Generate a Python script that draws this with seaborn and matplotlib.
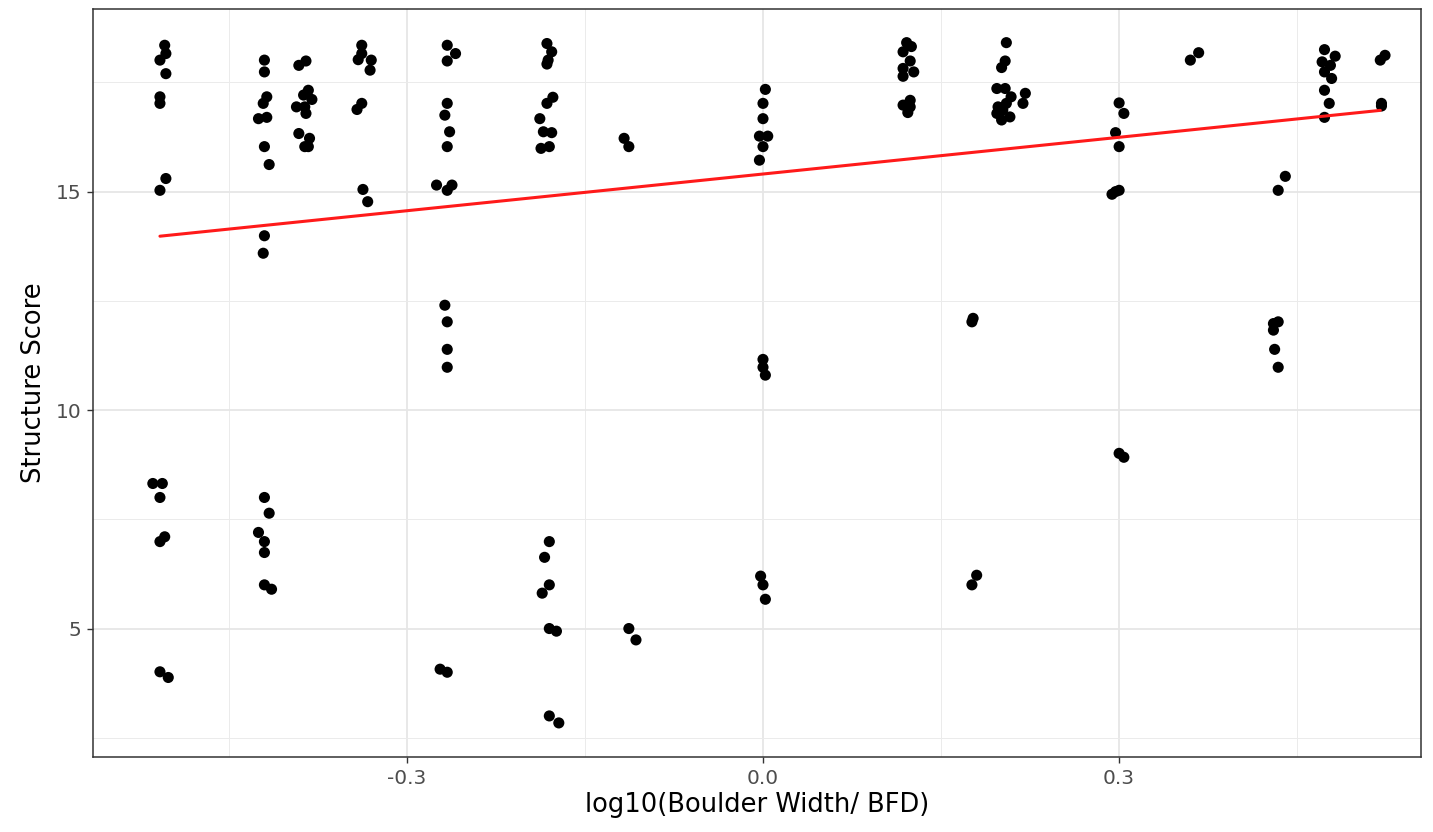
import matplotlib
matplotlib.use("Agg")
import matplotlib.pyplot as plt
import seaborn as sns
import pandas as pd
from matplotlib.ticker import FixedLocator

# ---- data (jittered points) ----
x_vals = [
    -0.504, -0.503, -0.508, -0.503, -0.508, -0.508, -0.503, -0.508, -0.514, -0.506, -0.508, -0.504, -0.508, -0.508, -0.501,
    -0.420, -0.420, -0.418, -0.421, -0.425, -0.418, -0.420, -0.416, -0.420, -0.421, -0.420, -0.416, -0.425, -0.420, -0.420, -0.420, -0.414,
    -0.391, -0.385, -0.383, -0.387, -0.380, -0.393, -0.386, -0.385, -0.391, -0.382, -0.386, -0.383,
    -0.338, -0.338, -0.341, -0.330, -0.331, -0.338, -0.342, -0.337, -0.333,
    -0.266, -0.259, -0.266, -0.266, -0.268, -0.264, -0.266, -0.275, -0.266, -0.262, -0.268, -0.266, -0.266, -0.266, -0.272, -0.266,
    -0.182, -0.178, -0.181, -0.182, -0.177, -0.182, -0.188, -0.185, -0.178, -0.187, -0.180, -0.180, -0.184, -0.180, -0.186, -0.180, -0.174, -0.180, -0.172,
    -0.117, -0.113, -0.113, -0.107,
    0.002, 0.000, 0.000, -0.003, 0.004, 0.000, -0.003, 0.000, 0.000, 0.002, -0.002, 0.000, 0.002,
    0.121, 0.125, 0.118, 0.124, 0.118, 0.127, 0.118, 0.124, 0.118, 0.124, 0.122,
    0.205, 0.204, 0.201, 0.197, 0.204, 0.209, 0.221, 0.219, 0.197, 0.202, 0.208, 0.201, 0.198, 0.205, 0.177, 0.176, 0.176, 0.180,
    0.300, 0.304, 0.297, 0.300, 0.297, 0.300, 0.294, 0.300, 0.304,
    0.360, 0.367,
    0.473, 0.482, 0.471, 0.478, 0.473, 0.479, 0.473, 0.477, 0.473, 0.430, 0.434, 0.430, 0.431, 0.434, 0.434, 0.440,
    0.524, 0.520, 0.521, 0.521,
]
y_vals = [
    18.35, 18.16, 18.01, 17.70, 17.17, 17.02, 15.30, 15.03, 8.32, 8.32, 8.00, 7.10, 6.99, 4.01, 3.88,
    18.01, 17.74, 17.17, 17.02, 16.67, 16.70, 16.03, 15.62, 13.99, 13.59, 8.00, 7.64, 7.20, 6.99, 6.74, 6.00, 5.90,
    17.89, 17.99, 17.32, 17.21, 17.11, 16.94, 16.94, 16.79, 16.33, 16.22, 16.03, 16.03,
    18.35, 18.16, 18.02, 18.01, 17.78, 17.02, 16.88, 15.05, 14.77,
    18.35, 18.16, 17.99, 17.02, 16.75, 16.37, 16.03, 15.15, 15.03, 15.15, 12.40, 12.02, 11.39, 10.98, 4.07, 4.00,
    18.39, 18.20, 18.01, 17.92, 17.16, 17.02, 16.67, 16.37, 16.35, 15.99, 16.03, 6.99, 6.63, 6.00, 5.81, 5.00, 4.94, 3.00, 2.84,
    16.22, 16.03, 5.00, 4.74,
    17.34, 17.02, 16.67, 16.27, 16.27, 16.03, 15.72, 11.16, 10.98, 10.80, 6.20, 6.00, 5.67,
    18.41, 18.32, 18.20, 17.99, 17.82, 17.74, 17.64, 17.09, 16.98, 16.94, 16.81,
    18.41, 17.99, 17.84, 17.36, 17.36, 17.17, 17.25, 17.02, 16.79, 16.87, 16.71, 16.64, 16.94, 17.02, 12.10, 12.02, 6.00, 6.22,
    17.03, 16.79, 16.35, 16.03, 15.00, 15.03, 14.94, 9.01, 8.92,
    18.01, 18.18,
    18.25, 18.10, 17.97, 17.89, 17.74, 17.59, 17.32, 17.02, 16.70, 11.98, 12.02, 11.83, 11.39, 10.98, 15.03, 15.35,
    18.12, 18.01, 17.02, 16.96,
]

# fitted linear trend (as drawn in the reference)
fit_x = [-0.508, 0.520]
fit_y = [13.98, 16.86]

x_ticks = [-0.3, 0.0, 0.3]
x_tick_labels = ["-0.3", "0.0", "0.3"]
x_minor = [-0.45, -0.15, 0.15, 0.45]
y_ticks = [5, 10, 15]
y_tick_labels = ["5", "10", "15"]
y_minor = [2.5, 7.5, 12.5, 17.5]

x_label = "log10(Boulder Width/ BFD)"
y_label = "Structure Score"

pts = pd.DataFrame({"x": x_vals, "y": y_vals})
fit = pd.DataFrame({"x": fit_x, "y": fit_y})

sns.set_theme(style="white")
plt.rcParams["font.family"] = ["DejaVu Sans"]

fig = plt.figure(figsize=(14.33, 8.32), dpi=100)
ax = fig.add_axes([93 / 1433, 1 - 757 / 832, (1421 - 93) / 1433, (757 - 9) / 832])

sns.scatterplot(data=pts, x="x", y="y", ax=ax, color="black", s=64,
                edgecolor="none", linewidth=0, zorder=3)
sns.lineplot(data=fit, x="x", y="y", ax=ax, color="#FF1A1A", linewidth=2.2,
             zorder=4, estimator=None)

ax.set_xlim(-0.5644, 0.5543)
ax.set_ylim(2.06, 19.18)

ax.xaxis.set_major_locator(FixedLocator(x_ticks))
ax.set_xticklabels(x_tick_labels)
ax.xaxis.set_minor_locator(FixedLocator(x_minor))
ax.yaxis.set_major_locator(FixedLocator(y_ticks))
ax.set_yticklabels(y_tick_labels)
ax.yaxis.set_minor_locator(FixedLocator(y_minor))

ax.grid(True, which="major", color="#E6E6E6", linewidth=1.3, zorder=0)
ax.grid(True, which="minor", color="#EBEBEB", linewidth=0.7, zorder=0)
ax.set_axisbelow(True)

for sp in ax.spines.values():
    sp.set_color("#333333")
    sp.set_linewidth(1.1)

ax.tick_params(axis="both", which="major", length=4.3, width=1.0, color="#333333",
               labelsize=14.5, labelcolor="#4D4D4D", pad=4, bottom=True, left=True)
ax.tick_params(axis="both", which="minor", length=0)

ax.set_xlabel(x_label, fontsize=18.5, color="black", labelpad=3)
ax.set_ylabel(y_label, fontsize=18.5, color="black", labelpad=6)

fig.savefig("out.png", dpi=100, facecolor="white")
